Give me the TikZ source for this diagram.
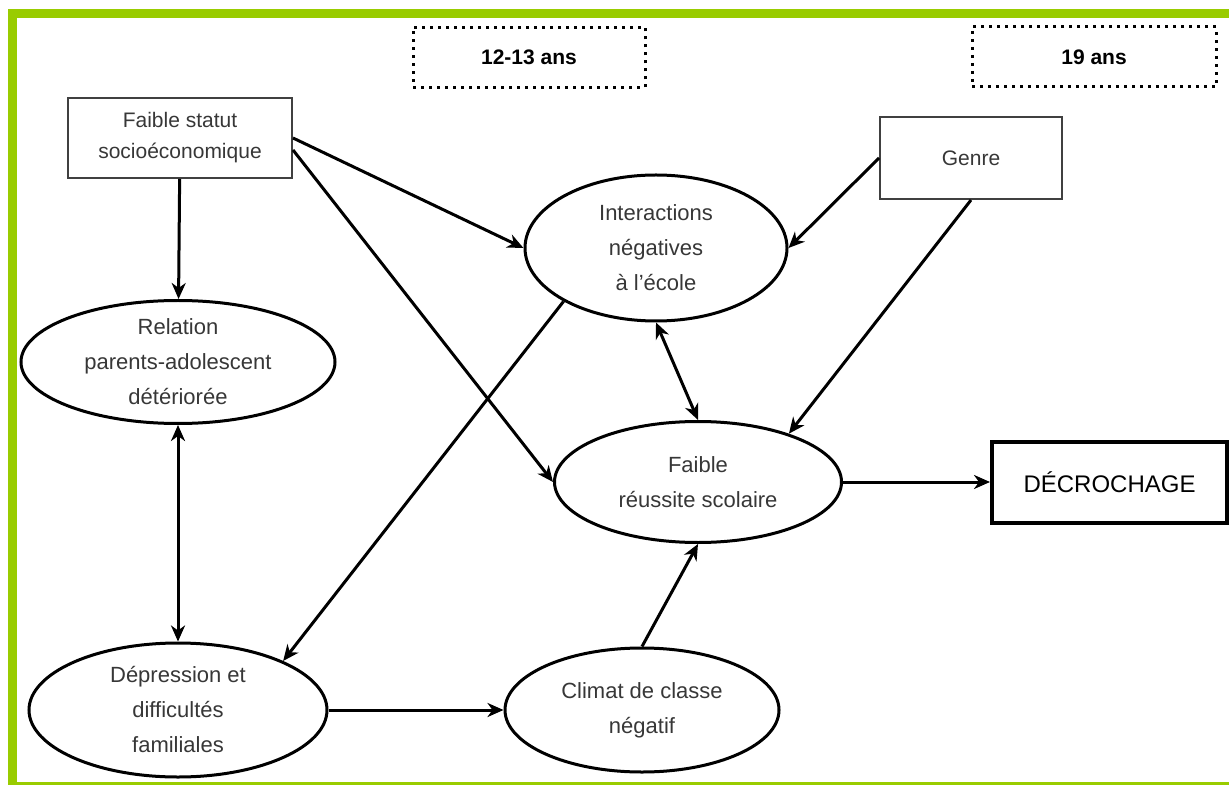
\documentclass[tikz,border=0pt]{standalone}
\usepackage{fontspec}
\setmainfont{Liberation Sans}
\usetikzlibrary{arrows.meta,shapes.geometric}
\definecolor{framegreen}{RGB}{153,204,0}
\definecolor{txtgray}{RGB}{55,55,55}

\begin{document}
\begin{tikzpicture}[x=0.5pt,y=-0.5pt]
\tikzstyle{main}=[ellipse, draw=black, line width=1.5pt, inner sep=0pt, align=center, text=txtgray, font=\fontsize{11}{17.5}\selectfont]
\tikzstyle{factor}=[rectangle, draw=black!75, line width=1pt, inner sep=0pt, align=center, text=txtgray, font=\fontsize{10.5}{15.5}\selectfont]
\tikzstyle{age}=[rectangle, draw=black, line width=1.5pt, dash pattern=on 1.5pt off 2.5pt, minimum height=30pt, font=\fontsize{10.5}{12}\selectfont\bfseries]
\tikzstyle{outcome}=[rectangle, draw=black, line width=2pt, minimum width=117.5pt, minimum height=40.5pt, font=\fontsize{12}{14}\selectfont]
\tikzstyle{connect}=[-{Stealth[length=8pt,width=7pt,inset=2.5pt]}, line width=1.5pt]
\tikzstyle{both}=[{Stealth[length=8pt,width=7pt,inset=2.5pt]}-{Stealth[length=8pt,width=7pt,inset=2.5pt]}, line width=1.5pt]

\useasboundingbox (0,0) rectangle (1229,785);
\begin{scope}
\clip (0,0) rectangle (1229,785);
\draw[framegreen, line width=4.5pt] (12.5,14) rectangle (1260,786);
\end{scope}

\node[age, minimum width=116pt] at (529,57.5) (early) {12-13 ans};
\node[age, minimum width=122pt] at (1094,57) (late) {19 ans};

\node[factor, minimum width=112pt, minimum height=40pt] at (180,138) (statut) {Faible statut\\socioéconomique};
\node[factor, minimum width=91pt, minimum height=41pt] at (971,158) (genre) {Genre};
\node[main, minimum width=157pt, minimum height=61.5pt] at (178,362) (relation) {Relation\\parents-adolescent\\détériorée};
\node[main, minimum width=131pt, minimum height=73pt] at (656,248) (inter) {Interactions\\négatives\\à l'école};
\node[main, minimum width=143.5pt, minimum height=60.5pt] at (698,482) (reussite) {Faible\\réussite scolaire};
\node[outcome] at (1109.5,482) (decro) {DÉCROCHAGE};
\node[main, minimum width=149pt, minimum height=67pt] at (178,710) (dep) {Dépression et\\difficultés\\familiales};
\node[main, minimum width=137pt, minimum height=62pt] at (642,710) (climat) {Climat de classe\\négatif};

\path (statut) edge [connect] (relation);
\path (statut.east) edge [connect] (inter.west);
\path ([yshift=-6pt]statut.east) edge [connect] (reussite.west);
\path (genre.west) edge [connect] (inter.east);
\path (genre.south) edge [connect] (reussite.28);
\path (inter.south) edge [both] (reussite.north);
\path (inter.210) edge [connect] (dep.25);
\path (relation) edge [both] (dep);
\path (dep) edge [connect] (climat);
\path (climat.north) edge [connect] (reussite.south);
\path (reussite) edge [connect] (decro);
\end{tikzpicture}
\end{document}
